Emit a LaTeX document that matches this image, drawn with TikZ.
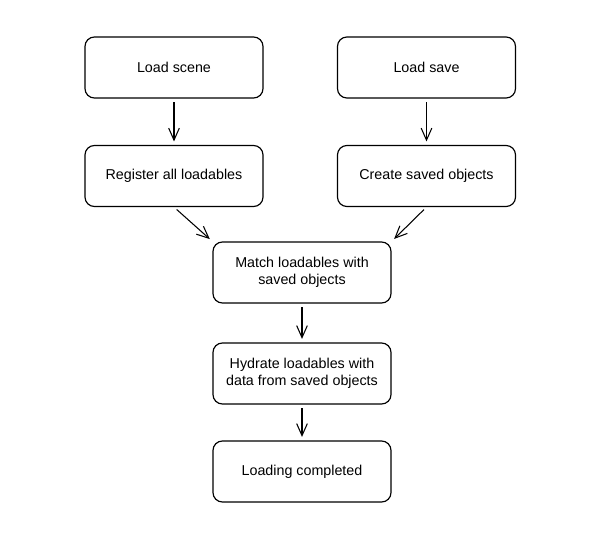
\documentclass[tikz,border=0pt]{standalone}
\usepackage{fontspec}
\setmainfont{Liberation Sans}
\usetikzlibrary{arrows.meta}
\begin{document}
\begin{tikzpicture}[x = 0.03cm, y = -0.03cm,
	box/.style = {draw = black, fill = white, line width = 1pt, rounded corners = 8pt, minimum width = 5.34cm, minimum height = 1.83cm, align = center, font = \fontsize{12.2}{15}\selectfont},
	arr/.style = {line width = 0.9pt, -{Straight Barb[length = 3.6mm, width = 3.2mm]}, shorten > = 3pt, shorten < = 3pt}]
					\useasboundingbox (0, 0) rectangle (600, 533);
					\node[box] (loadscene) at (174, 67.5) {Load scene};
					\node[box] (loadsave) at (426.5, 67.5) {Load save};
					\node[box] (register) at (174, 176) {Register all loadables};
					\node[box] (create) at (426.5, 176) {Create saved objects};
					\node[box] (match) at (302, 272.5) {Match loadables with\\saved objects};
					\node[box] (hydrate) at (302, 373.5) {Hydrate loadables with\\data from saved objects};
					\node[box] (done) at (302, 471.5) {Loading completed};
					\draw[arr] (loadscene) -- (register);
					\draw[arr] (loadsave) -- (create);
					\draw[arr] (register.south) -- (match.north west);
					\draw[arr] (create.south) -- (match.north east);
					\draw[arr] (match) -- (hydrate);
					\draw[arr] (hydrate) -- (done);
				\end{tikzpicture}
\end{document}
